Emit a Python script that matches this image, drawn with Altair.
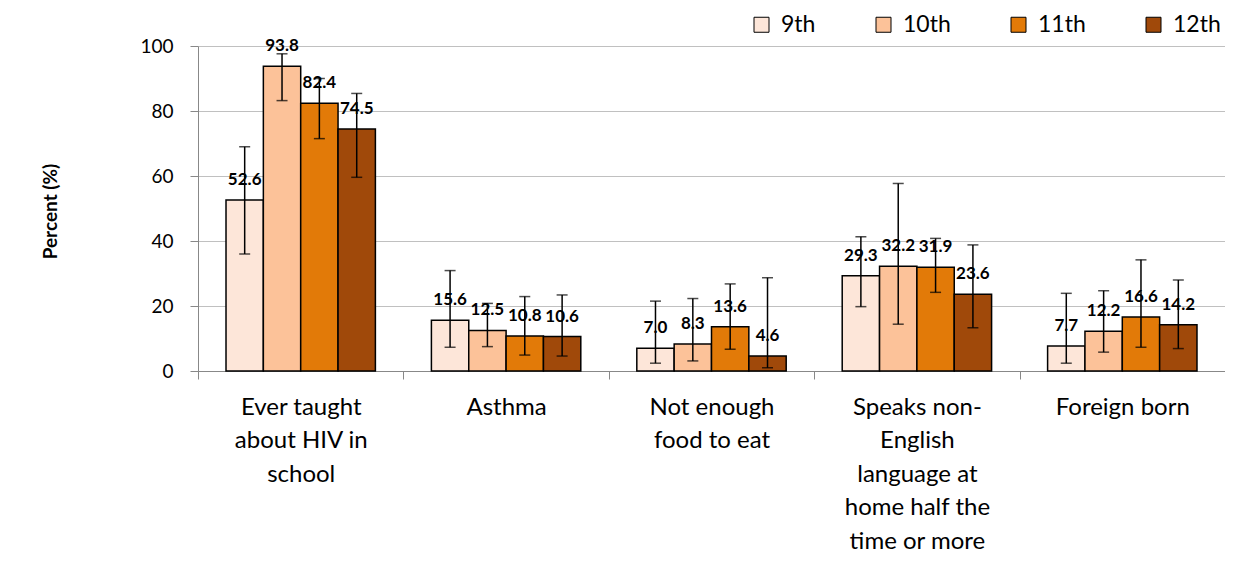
import altair as alt
import pandas as pd

categories = [
    "Ever taught|about HIV in|school",
    "Asthma",
    "Not enough|food to eat",
    "Speaks non-|English|language at|home half the|time or more",
    "Foreign born",
]
grades = ["9th", "10th", "11th", "12th"]
colors = ["#FDE6D9", "#FCC299", "#E27A08", "#A0490A"]

values = {
    "9th":  [52.6, 15.6, 7.0, 29.3, 7.7],
    "10th": [93.8, 12.5, 8.3, 32.2, 12.2],
    "11th": [82.4, 10.8, 13.6, 31.9, 16.6],
    "12th": [74.5, 10.6, 4.6, 23.6, 14.2],
}
lower = {
    "9th":  [36.0, 7.3, 2.4, 19.8, 2.4],
    "10th": [83.2, 7.5, 3.1, 14.4, 5.8],
    "11th": [71.5, 4.9, 6.7, 24.2, 7.3],
    "12th": [59.6, 4.6, 1.0, 13.3, 6.9],
}
upper = {
    "9th":  [69.0, 30.9, 21.5, 41.3, 23.9],
    "10th": [97.6, 20.8, 22.3, 57.7, 24.7],
    "11th": [90.0, 22.9, 26.8, 40.8, 34.2],
    "12th": [85.4, 23.4, 28.7, 38.8, 28.0],
}

rows = []
for g in grades:
    for i, c in enumerate(categories):
        rows.append({"category": c, "grade": g, "value": values[g][i],
                     "lo": lower[g][i], "hi": upper[g][i]})
df = pd.DataFrame(rows)

FONT = "Lato"

x_enc = alt.X(
    "category:N", sort=categories,
    scale=alt.Scale(paddingInner=0, paddingOuter=0),
    axis=alt.Axis(
        title=None, labelAngle=0, labelExpr="split(datum.label, '|')",
        tickBand="extent", tickSize=8, tickColor="#888888", domainColor="#888888",
        labelFontSize=24, labelLineHeight=33.5, labelPadding=16, labelFont=FONT,
        labelColor="black", labelBaseline="top",
    ),
)
xoff = alt.XOffset("grade:N", sort=grades, scale=alt.Scale(paddingInner=0, paddingOuter=0.75))
y_scale = alt.Scale(domain=[0, 100])

base = alt.Chart(df)

bars = base.mark_bar(stroke="black", strokeWidth=1.5, opacity=1).encode(
    x=x_enc,
    xOffset=xoff,
    y=alt.Y("value:Q", scale=y_scale, axis=alt.Axis(
        title="Percent (%)", values=[0, 20, 40, 60, 80, 100], grid=True,
        gridColor="#C0C0C0", gridWidth=1, domainColor="#888888", tickColor="#888888",
        tickSize=8, labelPadding=17, labelFontSize=19, labelFont=FONT, labelColor="black",
        titleFont=FONT, titleFontSize=19, titleFontWeight="bold", titleColor="black",
        titleAngle=-90, titleX=-148, titleY=165, titleAlign="center", titleBaseline="middle",
    )),
    color=alt.Color("grade:N", sort=grades,
                    scale=alt.Scale(domain=grades, range=colors),
                    legend=alt.Legend(
                        title=None, orient="none", direction="horizontal",
                        legendX=552, legendY=-33, symbolType="square", symbolSize=225,
                        symbolStrokeColor="black", symbolStrokeWidth=1, symbolOpacity=1,
                        labelFontSize=23, labelFont=FONT, labelColor="black",
                        columnPadding=56, labelOffset=8,
                    )),
)

rules = base.mark_rule(color="black", strokeWidth=1.5).encode(
    x=alt.X("category:N", sort=categories), xOffset=xoff,
    y=alt.Y("lo:Q", scale=y_scale), y2="hi:Q",
)
caps_lo = base.mark_tick(color="black", size=11, thickness=1.5, orient="horizontal").encode(
    x=alt.X("category:N", sort=categories), xOffset=xoff,
    y=alt.Y("lo:Q", scale=y_scale),
)
caps_hi = base.mark_tick(color="black", size=11, thickness=1.5, orient="horizontal").encode(
    x=alt.X("category:N", sort=categories), xOffset=xoff,
    y=alt.Y("hi:Q", scale=y_scale),
)
labels = base.mark_text(baseline="bottom", dy=-11, fontSize=17, fontWeight="bold",
                        font=FONT, color="black").encode(
    x=alt.X("category:N", sort=categories), xOffset=xoff,
    y=alt.Y("value:Q", scale=y_scale),
    text=alt.Text("value:Q", format=".1f"),
)

chart = alt.layer(bars, rules, caps_lo, caps_hi, labels).properties(
    width=1027, height=325,
    autosize=alt.AutoSizeParams(type="none"),
    padding={"left": 190, "top": 38, "right": 0, "bottom": 182},
    background="white",
).configure_view(stroke=None)

chart.save("out.html", embed_options={"renderer": "svg", "actions": False})
